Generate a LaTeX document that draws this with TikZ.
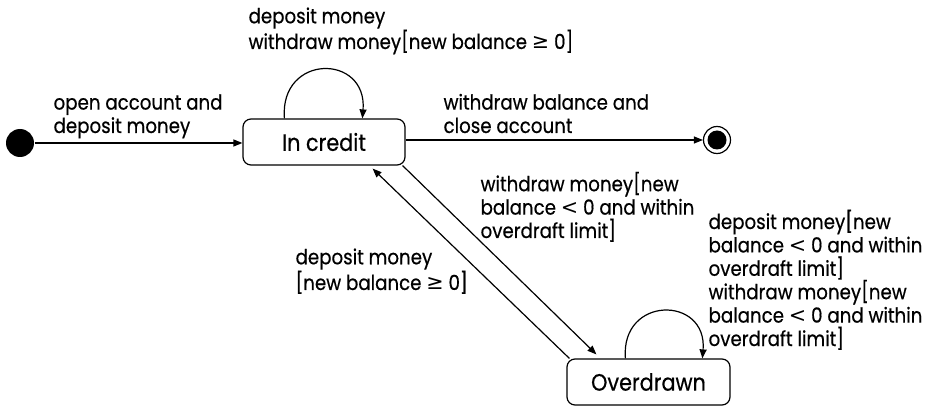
\documentclass[tikz,border=0pt]{standalone}
\usepackage{fontspec}
\setmainfont{Poppins}[FakeStretch=0.88,FakeBold=0.5]
\newfontfamily\symf{DejaVu Sans}
\newcommand{\mygeq}{{\symf ≥}}
\newcommand{\mylt}{{\symf <}}
\usetikzlibrary{arrows.meta,calc}
\begin{document}
\begin{tikzpicture}[x=1pt,y=-1pt,
  line width=1.2pt,
  >={Triangle[length=9pt,width=7pt]},
  statebox/.style={draw,rounded corners=8pt,line width=1.2pt,inner sep=0pt,
     font=\fontsize{23.6}{26}\selectfont},
  lbl/.style={anchor=base west,inner sep=0pt,align=left,
     font=\fontsize{20.7}{23.4}\selectfont}]
\useasboundingbox (0,0) rectangle (927,406);
% states
\node[statebox,minimum width=162pt,minimum height=46pt] (credit) at (324,142) {In credit};
\node[statebox,minimum width=163pt,minimum height=46pt] (over) at (648.5,382) {Overdrawn};
\node[circle,fill=black,minimum size=28pt,inner sep=0pt] (init) at (20,143) {};
\node[circle,draw,line width=1.2pt,minimum size=27pt,inner sep=0pt] (final) at (717,140) {};
\node[circle,fill=black,minimum size=19pt,inner sep=0pt] (finalin) at (final.center) {};
% named end points
\coordinate (a1) at ([xshift=-3pt]credit.south east);
\coordinate (a2) at ([xshift=30pt,yshift=4pt]over.north west);
\coordinate (b1) at ([xshift=3pt]over.north west);
\coordinate (b2) at ([xshift=-33pt,yshift=-3pt]credit.south east);
\coordinate (l1) at ([xshift=42pt]credit.north west);
\coordinate (l2) at ([xshift=120pt]credit.north west);
\coordinate (m1) at ([xshift=59pt]over.north west);
\coordinate (m2) at ([xshift=136pt]over.north west);
% connectors
\draw[->] (init.east) -- (init.east -| credit.west);
\draw[->] (final.west -| credit.east) -- (final.west);
\draw[->] (a1) -- (a2);
\draw[->] (b1) -- (b2);
\draw[->] (l1) .. controls +(-5,-65) and +(5,-65) .. (l2);
\draw[->] (m1) .. controls +(-5,-63) and +(5,-63) .. (m2);
% labels (anchored at the baseline of their last line)
\node[lbl] (t1) at (248,49) {deposit money\\withdraw money[new balance \mygeq{} 0]};
\node[lbl] (t2) at (53,133) {open account and\\deposit money};
\node[lbl] (t3) at (443,133) {withdraw balance and\\close account};
\node[lbl] (t4) at (480,238) {withdraw money[new\\balance \mylt{} 0 and within\\overdraft limit]};
\node[lbl] (t5) at (295,290) {deposit money\\{[}new balance \mygeq{} 0]};
\node[lbl] (t6) at (708,346) {deposit money[new\\balance \mylt{} 0 and within\\overdraft limit]\\withdraw money[new\\balance \mylt{} 0 and within\\overdraft limit]};
\end{tikzpicture}
\end{document}
